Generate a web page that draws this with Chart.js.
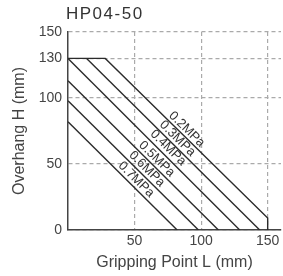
<!DOCTYPE html>
<html>
<head>
<meta charset="utf-8">
<script src="https://cdn.jsdelivr.net/npm/chart.js@4"></script>
<style>
    html, body { margin: 0; padding: 0; background: #fff; }
    #wrap { width: 283px; height: 276px; }
</style>
</head>
<body>
<div id="wrap"><canvas id="chart" width="283" height="276"></canvas></div>
<script>
// data
const chartTitle = "HP04-50";
const pressures = ["0.2MPa", "0.3MPa", "0.4MPa", "0.5MPa", "0.6MPa", "0.7MPa"];
const gripL = [
    [0, 28, 150, 150],
    [14, 144],
    [0, 129],
    [0, 113],
    [0, 98],
    [0, 82]
];
const overhangH = [
    [130, 130, 9, 0],
    [130, 0],
    [130, 0],
    [113, 0],
    [98, 0],
    [82, 0]
];
const xTicks = [50, 100, 150];
const yTicks = [0, 50, 100, 130, 150];

const FONT = "'Liberation Sans', Arial, sans-serif";
const INK = "#2b2b2b";

const datasets = pressures.map((p, i) => ({
    label: p,
    data: gripL[i].map((x, j) => ({ x: x, y: overhangH[i][j] })),
    showLine: true,
    borderColor: INK,
    borderWidth: 1.4,
    pointRadius: 0,
    fill: false
}));

// titre en haut à gauche
const titlePlugin = {
    id: "titleText",
    afterDraw(chart) {
        const ctx = chart.ctx;
        ctx.save();
        ctx.font = "17px " + FONT;
        ctx.letterSpacing = "1.5px";
        ctx.fillStyle = "#333";
        ctx.textBaseline = "middle";
        ctx.fillText(chartTitle, 66, 14);
        ctx.restore();
    }
};

// étiquettes de pression le long des lignes
const lineLabels = {
    id: "lineLabels",
    afterDatasetsDraw(chart) {
        const ctx = chart.ctx;
        const xs = chart.scales.x, ys = chart.scales.y;
        ctx.save();
        ctx.font = "13px " + FONT;
        ctx.fillStyle = "#333";
        ctx.textAlign = "center";
        ctx.textBaseline = "middle";
        chart.data.datasets.forEach(ds => {
            const pts = ds.data;
            // dernier segment diagonal
            let a = pts[0], b = pts[1];
            for (let k = 0; k < pts.length - 1; k++) {
                if (pts[k].y !== pts[k + 1].y && pts[k].x !== pts[k + 1].x) { a = pts[k]; b = pts[k + 1]; }
            }
            const c = a.x + a.y; // x + y = c
            const lx = (c + 13) / 2, ly = (c - 13) / 2;
            const px = xs.getPixelForValue(lx), py = ys.getPixelForValue(ly);
            const ang = Math.atan2(ys.getPixelForValue(b.y) - ys.getPixelForValue(a.y),
                                   xs.getPixelForValue(b.x) - xs.getPixelForValue(a.x));
            const off = 7;
            ctx.save();
            ctx.translate(px + Math.sin(ang) * off, py - Math.cos(ang) * off);
            ctx.rotate(ang);
            ctx.fillText(ds.label, 0, 0);
            ctx.restore();
        });
        ctx.restore();
    }
};

new Chart(document.getElementById("chart").getContext("2d"), {
    type: "scatter",
    data: { datasets: datasets },
    plugins: [titlePlugin, lineLabels],
    options: {
        responsive: false,
        animation: false,
        layout: { padding: { top: 32, right: 2, left: 0, bottom: 0 } },
        plugins: {
            legend: { display: false },
            tooltip: { enabled: false }
        },
        scales: {
            x: {
                type: "linear",
                min: 0,
                max: 160,
                afterBuildTicks: s => { s.ticks = xTicks.map(v => ({ value: v })); },
                afterFit: s => { s.height = 46; },
                ticks: { color: "#444", font: { family: FONT, size: 14 }, padding: 3, maxRotation: 0 },
                grid: { color: "#aaa", lineWidth: 1.2, drawTicks: false },
                border: { display: true, color: "#444", width: 1.5, dash: [4, 3] },
                title: { display: true, text: "Gripping Point L (mm)", color: "#444",
                         font: { family: FONT, size: 16 }, padding: { top: 0, bottom: 4 } }
            },
            y: {
                type: "linear",
                min: 0,
                max: 150,
                afterBuildTicks: s => { s.ticks = yTicks.map(v => ({ value: v })); },
                afterFit: s => { s.width = 68; },
                ticks: { color: "#444", font: { family: FONT, size: 14 }, padding: 6 },
                grid: { color: "#aaa", lineWidth: 1.2, drawTicks: false },
                border: { display: true, color: "#444", width: 1.5, dash: [4, 3] },
                title: { display: true, text: "Overhang H (mm)", color: "#444",
                         font: { family: FONT, size: 16 }, padding: { top: 10, bottom: 0 } }
            }
        }
    }
});
</script>
</body>
</html>
